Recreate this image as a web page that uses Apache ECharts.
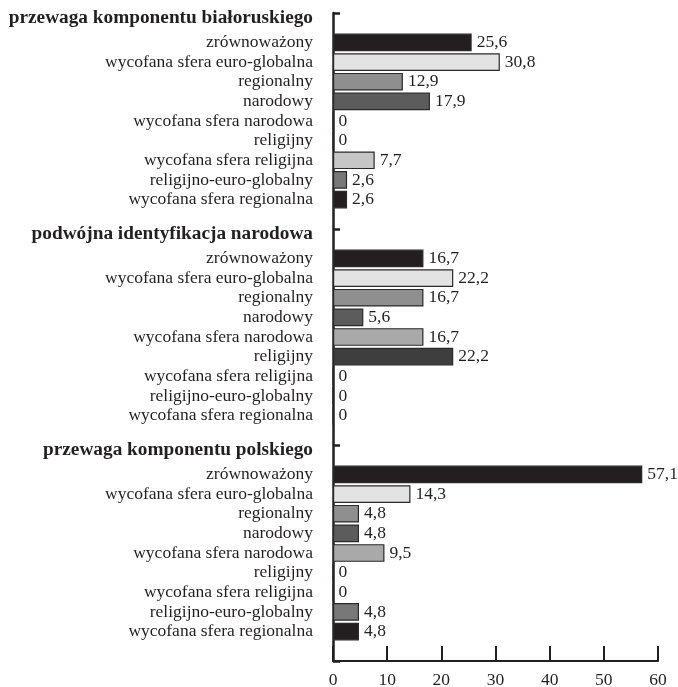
<!DOCTYPE html>
<html><head><meta charset="utf-8">
<script src="https://cdn.jsdelivr.net/npm/echarts@6/dist/echarts.min.js"></script>
<style>html,body{margin:0;padding:0;background:#fff}#c{width:678px;height:687px}</style>
</head><body><div id="c"></div>
<script>
var groups = ['przewaga komponentu białoruskiego', 'podwójna identyfikacja narodowa', 'przewaga komponentu polskiego'];
var categories = ['zrównoważony', 'wycofana sfera euro-globalna', 'regionalny', 'narodowy', 'wycofana sfera narodowa', 'religijny', 'wycofana sfera religijna', 'religijno-euro-globalny', 'wycofana sfera regionalna'];
var valuesBialoruski = [25.6, 30.8, 12.9, 17.9, 0, 0, 7.7, 2.6, 2.6];
var valuesPodwojna = [16.7, 22.2, 16.7, 5.6, 16.7, 22.2, 0, 0, 0];
var valuesPolski = [57.1, 14.3, 4.8, 4.8, 9.5, 0, 0, 4.8, 4.8];
var xTicks = [0, 10, 20, 30, 40, 50, 60];
var colors = ['#231f20', '#e3e3e3', '#8f8f8f', '#5c5c5c', '#a9a9a9', '#3e3e3e', '#c6c6c6', '#787878', '#231f20'];

var allValues = [valuesBialoruski, valuesPodwojna, valuesPolski];
var yCats = [], barData = [];
groups.forEach(function (g, gi) {
  yCats.push('H|' + g); barData.push('-');
  categories.forEach(function (c, ci) {
    yCats.push(c);
    barData.push({ value: allValues[gi][ci], itemStyle: { color: colors[ci] } });
  });
  yCats.push(''); barData.push('-');
});

var serif = '"Liberation Serif", "DejaVu Serif", serif';
var chart = echarts.init(document.getElementById('c'), null, { renderer: 'canvas' });
chart.setOption({
  animation: false,
  backgroundColor: '#fff',
  grid: { left: 333, right: 20, top: 13, bottom: 26, containLabel: false, outerBoundsMode: 'none' },
  xAxis: {
    type: 'value', min: 0, max: 60, interval: 10,
    axisLine: { show: true, lineStyle: { color: '#231f20', width: 2 } },
    axisTick: { show: true, inside: true, length: 15, lineStyle: { color: '#231f20', width: 2 } },
    splitLine: { show: false },
    axisLabel: { fontFamily: serif, fontSize: 17.5, color: '#231f20', margin: 10,
      formatter: function (v) { return xTicks.indexOf(v) >= 0 ? String(v) : ''; } }
  },
  yAxis: {
    type: 'category', data: yCats, inverse: true,
    axisLine: { show: true, lineStyle: { color: '#231f20', width: 2.5 } },
    axisTick: { show: true, inside: true, length: 7, alignWithLabel: false,
      interval: function (i) { return i % 11 === 0; }, lineStyle: { color: '#231f20', width: 2.5 } },
    axisLabel: {
      interval: 0, margin: 20, fontFamily: serif, fontSize: 17.5, color: '#231f20',
      formatter: function (v) {
        if (v.indexOf('H|') === 0) return '{h|' + v.slice(2) + '}';
        return v;
      },
      rich: { h: { fontFamily: serif, fontSize: 19.3, fontWeight: 'bold', color: '#231f20', padding: [0, 0, 10, 0] } }
    }
  },
  series: [{
    type: 'bar', data: barData, barCategoryGap: '10%',
    itemStyle: { borderColor: '#2a2a2a', borderWidth: 1.2 },
    label: { show: true, position: 'right', distance: 5, fontFamily: serif, fontSize: 17.5, color: '#231f20',
      formatter: function (p) { return p.value === 0 ? '0' : p.value.toFixed(1).replace('.', ','); } }
  }]
});
</script></body></html>
